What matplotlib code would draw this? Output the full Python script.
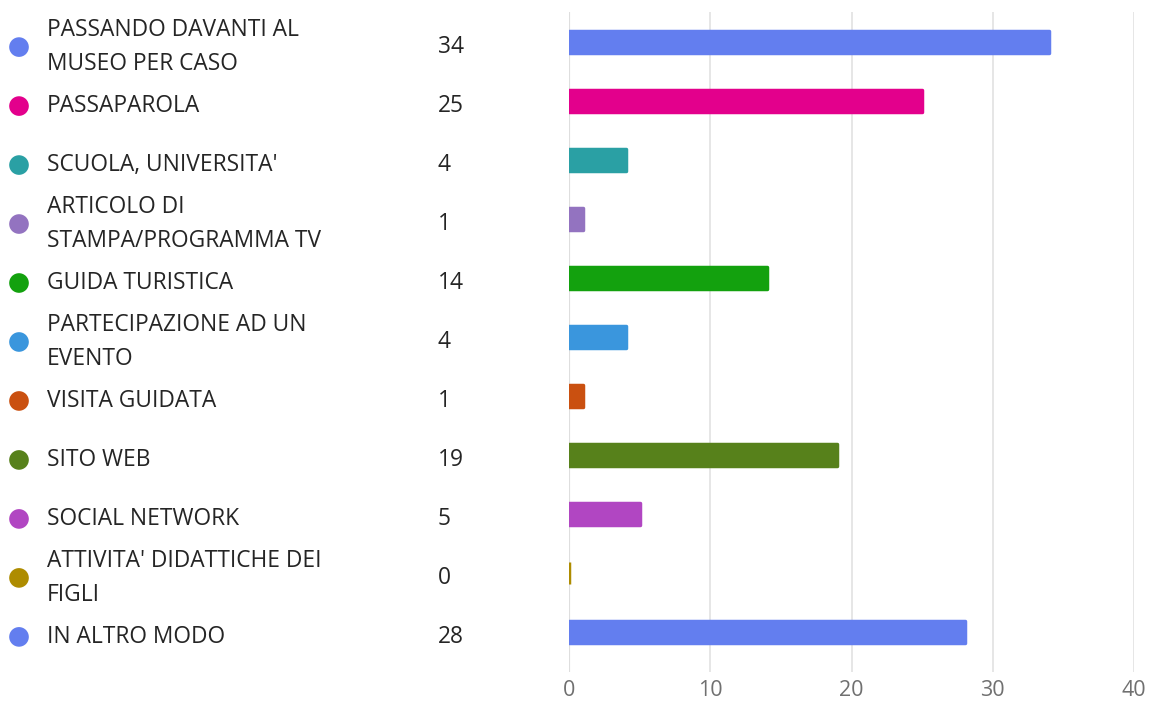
import numpy as np
import matplotlib.pyplot as plt
import matplotlib.transforms as mtransforms

plt.rcParams['font.family'] = ['Open Sans', 'DejaVu Sans']

# data
labels = ["PASSANDO DAVANTI AL\nMUSEO PER CASO", "PASSAPAROLA", "SCUOLA, UNIVERSITA'",
          "ARTICOLO DI\nSTAMPA/PROGRAMMA TV", "GUIDA TURISTICA",
          "PARTECIPAZIONE AD UN\nEVENTO", "VISITA GUIDATA", "SITO WEB",
          "SOCIAL NETWORK", "ATTIVITA' DIDATTICHE DEI\nFIGLI", "IN ALTRO MODO"]
counts = [34, 25, 4, 1, 14, 4, 1, 19, 5, 0, 28]
colors = ["#637EEF", "#E3008C", "#2AA0A4", "#9373C0", "#13A10E", "#3A96DD",
          "#CA5010", "#57811B", "#B146C2", "#AE8C00", "#637EEF"]
xticks = [0, 10, 20, 30, 40]

fig = plt.figure(figsize=(11.52, 7.04), dpi=100)
ax = fig.add_axes([569 / 1152, 1 - 672 / 704, (1134 - 569) / 1152, 660 / 704])

y = np.arange(len(counts))
# thin edge with round joins gives the bars slightly rounded corners
ax.barh(y, counts, height=0.36, color=colors, edgecolor=colors,
        linewidth=2.5, joinstyle='round', zorder=3)

ax.set_xlim(0, 40)
ax.set_ylim(10.68, -0.51)
ax.set_xticks(xticks)
ax.set_yticks([])
ax.grid(axis='x', color='#e1e1e1', linewidth=1.2, zorder=0)
for s in ax.spines.values():
    s.set_visible(False)
ax.axvline(0, color='#d0d0d0', linewidth=1.5, zorder=1)
ax.tick_params(axis='x', length=0, labelsize=15.5, labelcolor='#707070', pad=6)

# legend-like list on the left: dot, label, count
# (sits a few pixels lower than the bars in the original)
tr = mtransforms.blended_transform_factory(fig.transFigure, ax.transData)
tr = mtransforms.offset_copy(tr, fig=fig, y=-5, units='dots')
ax.scatter(np.full(len(y), 19 / 1152), y, s=200, c=colors, transform=tr,
           clip_on=False, zorder=4, linewidths=0)
for i, (lab, n) in enumerate(zip(labels, counts)):
    ax.text(47 / 1152, i, lab, transform=tr, va='center', ha='left',
            fontsize=16.4, color='#252525', linespacing=1.52)
    ax.text(438 / 1152, i, str(n), transform=tr, va='center', ha='left',
            fontsize=16.4, color='#252525')

fig.savefig('out.png', dpi=100)
